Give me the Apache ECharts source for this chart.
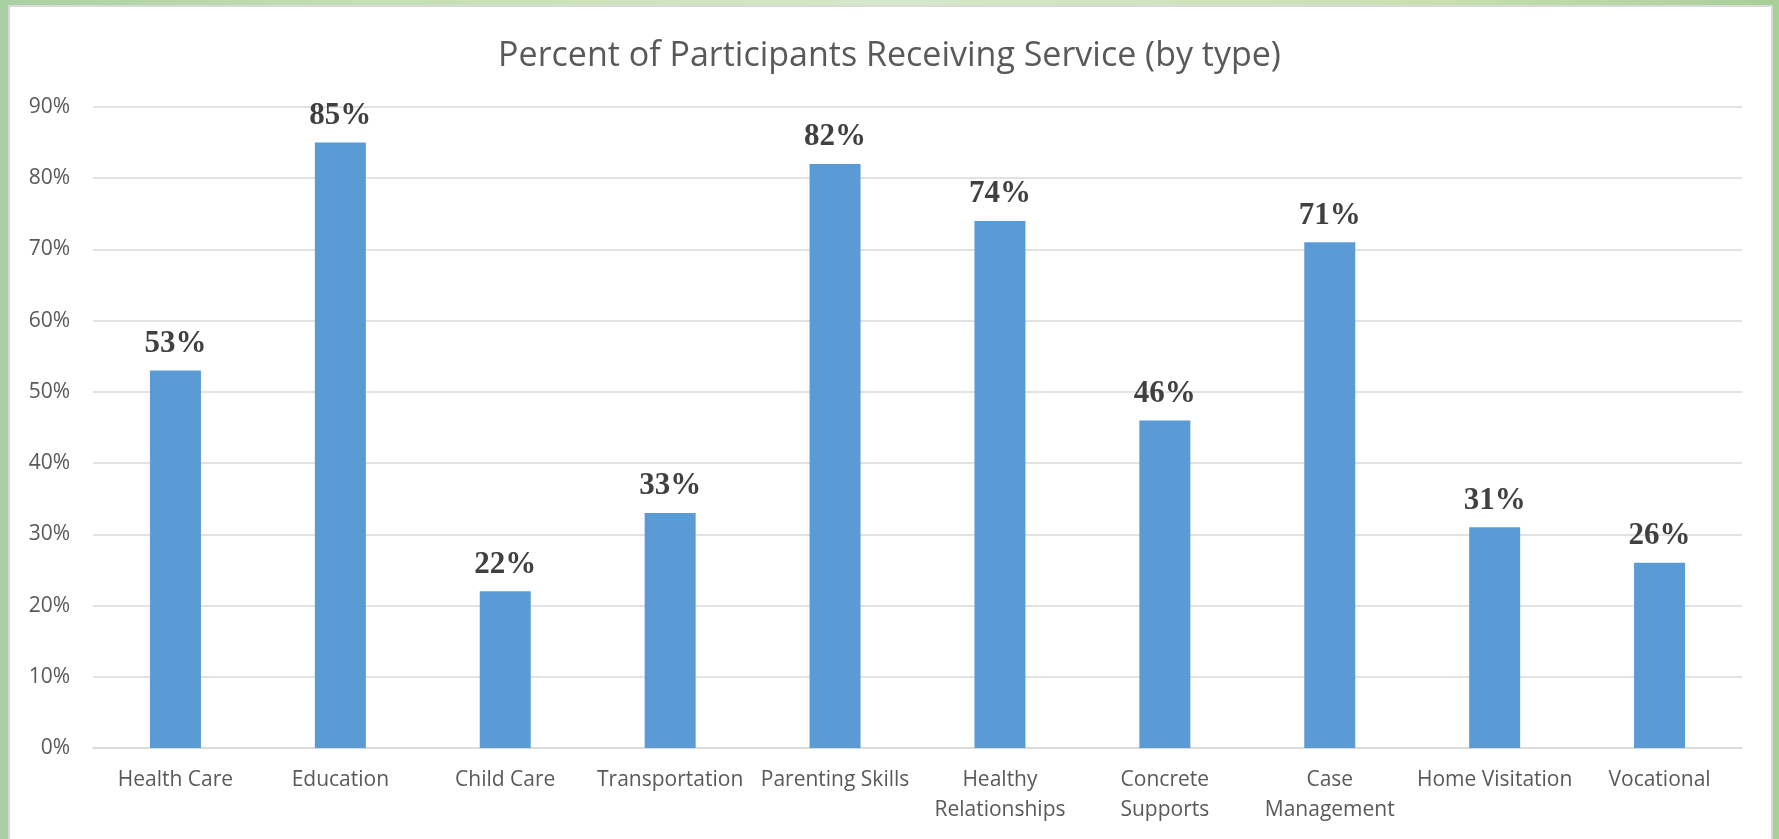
<!DOCTYPE html>
<html>
<head>
<meta charset="utf-8">
<script src="https://cdn.jsdelivr.net/npm/echarts@6/dist/echarts.min.js"></script>
<style>
  html, body { margin: 0; padding: 0; width: 1779px; height: 839px; overflow: hidden; }
  body { background: linear-gradient(90deg, #a9d0a3 0%, #c4dfb3 20%, #d6e8c8 50%, #c9e0b4 80%, #a8cf98 100%); position: relative; }
  #panel { position: absolute; left: 8px; top: 5px; width: 1765px; height: 840px; background: #ffffff; border: 2px solid #d9d9d9; box-sizing: border-box; }
  #chart { position: absolute; left: 0; top: 0; width: 1779px; height: 839px; }
</style>
</head>
<body>
<div id="panel"></div>
<div id="chart"></div>
<script>
const titleText = 'Percent of Participants Receiving Service (by type)';
const categories = ['Health Care', 'Education', 'Child Care', 'Transportation', 'Parenting Skills', 'Healthy\nRelationships', 'Concrete\nSupports', 'Case\nManagement', 'Home Visitation', 'Vocational'];
const percentValues = [53, 85, 22, 33, 82, 74, 46, 71, 31, 26];
const yTicks = { min: 0, max: 90, interval: 10 };

const chart = echarts.init(document.getElementById('chart'), null, { renderer: 'canvas' });
chart.setOption({
  backgroundColor: 'transparent',
  animation: false,
  title: {
    text: titleText,
    left: 'center',
    top: 34,
    textStyle: { fontFamily: 'Open Sans', fontWeight: 'normal', fontSize: 34, color: '#595959' }
  },
  grid: { left: 93, right: 37, top: 107, bottom: 91, containLabel: false },
  xAxis: {
    type: 'category',
    data: categories,
    axisLine: { show: true, lineStyle: { color: '#d9d9d9', width: 1.5 } },
    axisTick: { show: false },
    axisLabel: { interval: 0, margin: 17, fontFamily: 'Open Sans', fontSize: 21, color: '#595959', lineHeight: 30 }
  },
  yAxis: {
    type: 'value',
    min: yTicks.min, max: yTicks.max, interval: yTicks.interval,
    axisLine: { show: false },
    axisTick: { show: false },
    splitLine: { lineStyle: { color: '#d9d9d9', width: 1.5 } },
    axisLabel: { margin: 23, fontFamily: 'Open Sans', fontSize: 21, color: '#595959', formatter: v => v + '%' }
  },
  series: [{
    type: 'bar',
    data: percentValues,
    barWidth: 51,
    itemStyle: { color: '#5b9bd5' },
    label: {
      show: true, position: 'top', distance: 11,
      fontFamily: 'Liberation Serif', fontWeight: 'bold', fontSize: 31, color: '#404040',
      formatter: p => p.value + '%'
    }
  }]
});
</script>
</body>
</html>
